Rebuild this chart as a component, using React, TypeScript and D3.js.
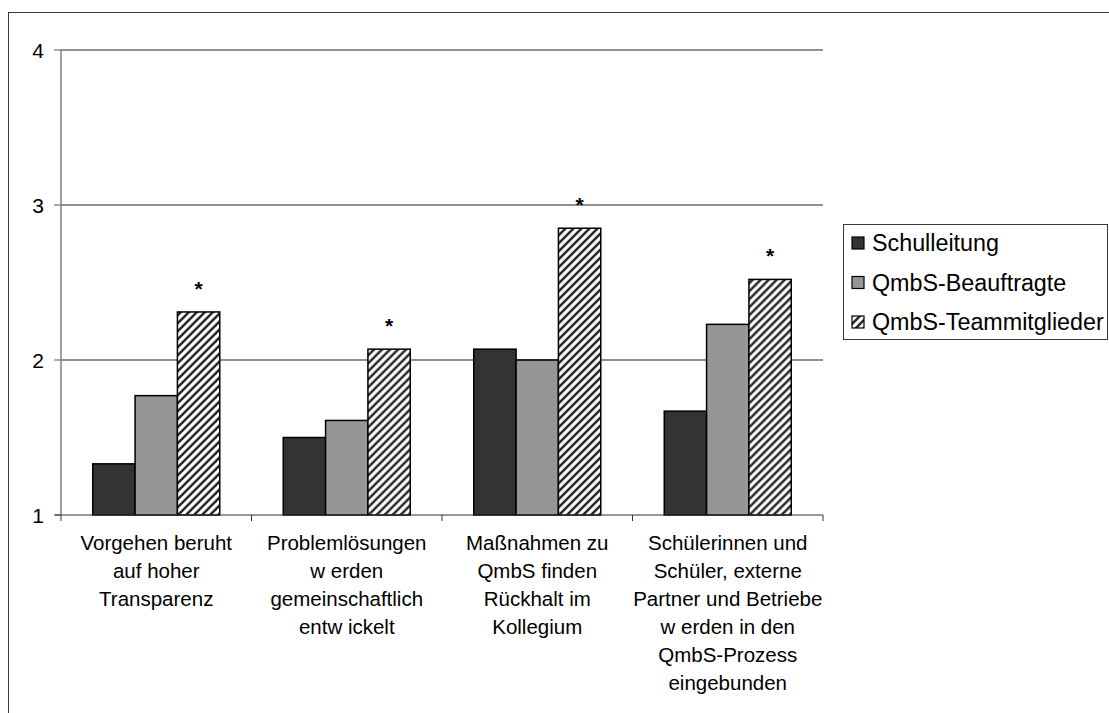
import React from "react";
import * as d3 from "d3";

// Mean ratings per statement and respondent group (scale 1–4)
const categories: string[][] = [
  ["Vorgehen beruht", "auf hoher", "Transparenz"],
  ["Problemlösungen", "w erden", "gemeinschaftlich", "entw ickelt"],
  ["Maßnahmen zu", "QmbS finden", "Rückhalt im", "Kollegium"],
  ["Schülerinnen und", "Schüler, externe", "Partner und Betriebe", "w erden in den", "QmbS-Prozess", "eingebunden"],
];
const seriesNames = ["Schulleitung", "QmbS-Beauftragte", "QmbS-Teammitglieder"];
const schulleitung = [1.33, 1.5, 2.07, 1.67];
const beauftragte = [1.77, 1.61, 2.0, 2.23];
const teammitglieder = [2.31, 2.07, 2.85, 2.52];
const significant = [true, true, true, true];
const yTicks = [1, 2, 3, 4];

const W = 1109;
const H = 713;
const plot = { left: 61, right: 823, top: 50, bottom: 515 };
const FONT = "'Liberation Sans', Arial, sans-serif";

export default function App() {
  const series = [schulleitung, beauftragte, teammitglieder];
  const fills = ["#333333", "#969696", "url(#hatch)"];
  const idx = categories.map((_, i) => i);

  const y = d3.scaleLinear().domain([1, 4]).range([plot.bottom, plot.top]);
  const x0 = d3.scaleBand<number>().domain(idx).range([plot.left, plot.right]).padding(0);
  const bw = x0.bandwidth();
  const x1 = d3
    .scaleBand<number>()
    .domain([0, 1, 2])
    .range([bw / 6, (bw * 5) / 6])
    .padding(0);

  const boundaries = [...idx.map((i) => x0(i)!), plot.right];

  return (
    <svg
      width={W}
      height={H}
      style={{ position: "absolute", left: 0, top: 0, display: "block", background: "#fff" }}
      fontFamily={FONT}
    >
      <defs>
        <pattern id="hatch" patternUnits="userSpaceOnUse" width={8} height={8}>
          <rect width={8} height={8} fill="#fff" />
          <path d="M-2,2 l4,-4 M0,8 l8,-8 M6,10 l4,-4" stroke="#2b2b2b" strokeWidth={2.6} />
        </pattern>
      </defs>

      {/* chart frame */}
      <rect x={8.5} y={12.5} width={W + 20} height={H + 20} fill="none" stroke="#3a3a3a" strokeWidth={1} />

      {/* gridlines and y ticks */}
      {yTicks.map((t) => (
        <g key={t}>
          {t > 1 && (
            <line x1={plot.left} x2={plot.right} y1={y(t)} y2={y(t)} stroke="#222" strokeWidth={1.2} />
          )}
          <line x1={plot.left - 7} x2={plot.left} y1={y(t)} y2={y(t)} stroke="#555" strokeWidth={1} />
          <text x={44} y={y(t)} dy="0.36em" textAnchor="end" fontSize={21} fill="#000">
            {t}
          </text>
        </g>
      ))}

      {/* y axis */}
      <line x1={plot.left} x2={plot.left} y1={plot.top} y2={plot.bottom} stroke="#808080" strokeWidth={1.5} />

      {/* bars */}
      {idx.map((c) => (
        <g key={c} transform={`translate(${x0(c)},0)`}>
          {series.map((s, k) => (
            <rect
              key={k}
              x={x1(k)}
              y={y(s[c])}
              width={x1.bandwidth()}
              height={y(1) - y(s[c])}
              fill={fills[k]}
              stroke="#000"
              strokeWidth={1.5}
            />
          ))}
          {significant[c] && (
            <text
              x={x1(2)! + x1.bandwidth() / 2}
              y={y(teammitglieder[c]) - 16}
              textAnchor="middle"
              fontSize={21}
              fontWeight="bold"
              fill="#000"
            >
              *
            </text>
          )}
        </g>
      ))}

      {/* x axis */}
      <line x1={plot.left - 6} x2={plot.right} y1={plot.bottom} y2={plot.bottom} stroke="#333" strokeWidth={1.2} />
      {boundaries.map((bx, i) => (
        <line key={i} x1={bx} x2={bx} y1={plot.bottom} y2={plot.bottom + 6} stroke="#333" strokeWidth={1} />
      ))}

      {/* category labels */}
      {idx.map((c) => (
        <text key={c} x={x0(c)! + bw / 2} y={550} textAnchor="middle" fontSize={20.5} fill="#000">
          {categories[c].map((line, li) => (
            <tspan key={li} x={x0(c)! + bw / 2} dy={li === 0 ? 0 : 28}>
              {line}
            </tspan>
          ))}
        </text>
      ))}

      {/* legend */}
      <rect x={843.5} y={224.5} width={264} height={115} fill="#fff" stroke="#3a3a3a" strokeWidth={1} />
      {seriesNames.map((name, k) => {
        const cy = 243 + k * 39.5;
        return (
          <g key={name}>
            <rect x={852} y={cy - 6} width={12} height={12} fill={fills[k]} stroke="#000" strokeWidth={1.2} />
            <text x={872} y={cy} dy="0.36em" fontSize={23.3} fill="#000">
              {name}
            </text>
          </g>
        );
      })}
    </svg>
  );
}
